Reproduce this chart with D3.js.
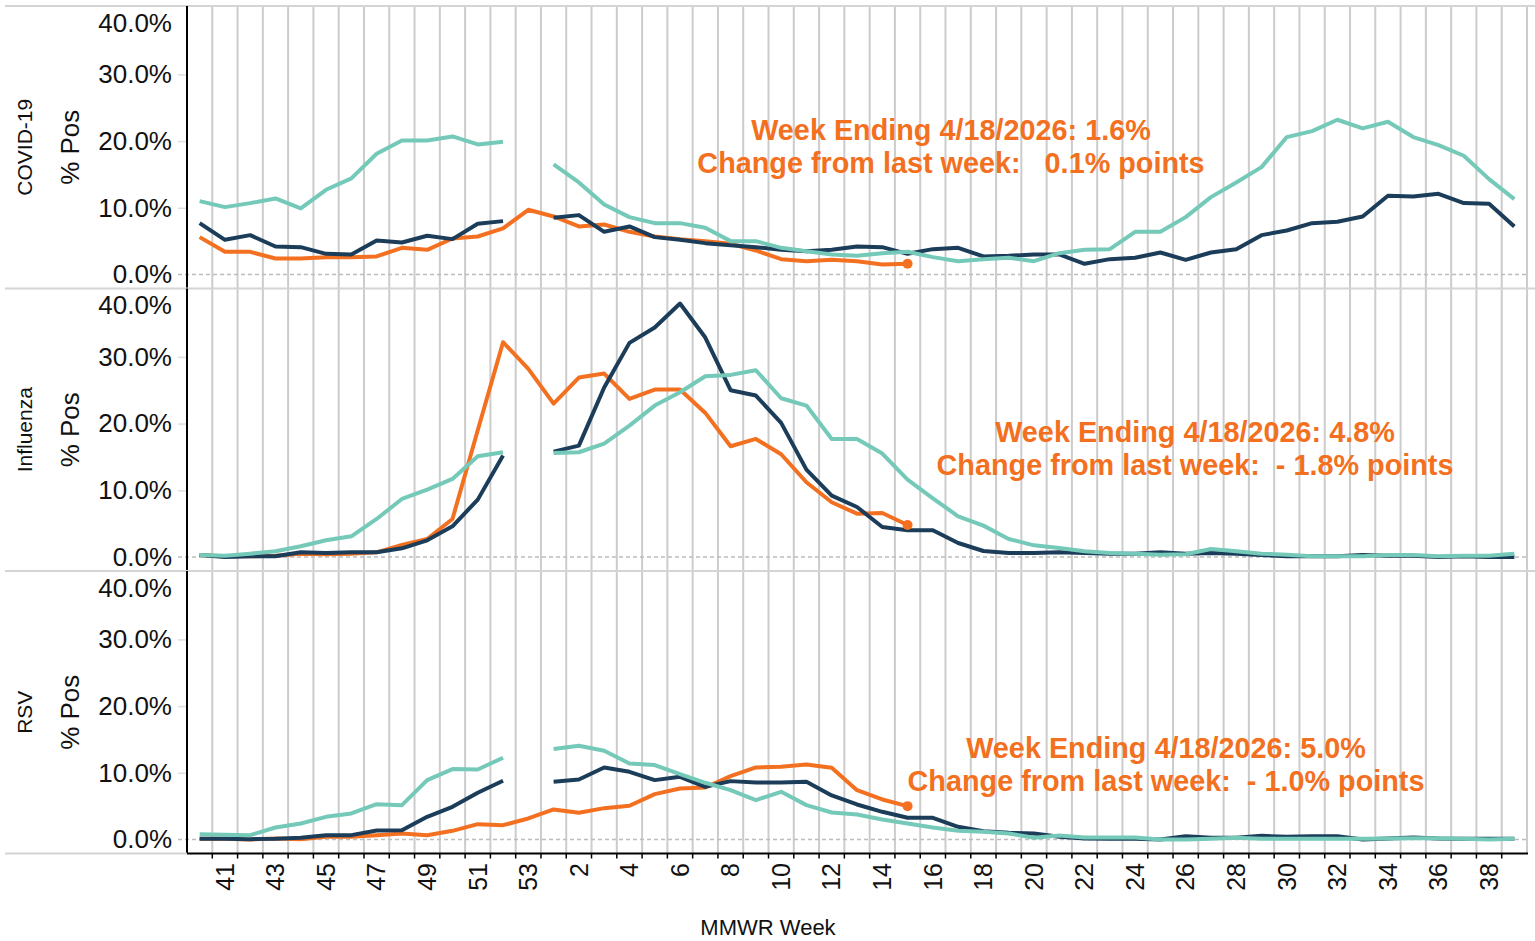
<!DOCTYPE html>
<html>
<head>
<meta charset="utf-8">
<script src="https://cdn.jsdelivr.net/npm/d3@7"></script>
<style>
  body { margin: 0; background: #fff; }
  text { font-family: Arial, "Liberation Sans", sans-serif; }
</style>
</head>
<body>
<svg id="chart" width="1535" height="941"></svg>
<script>
// MMWR weeks, season runs week 40 -> week 39
const weeks = [40, 41, 42, 43, 44, 45, 46, 47, 48, 49, 50, 51, 52, 53,
  1, 2, 3, 4, 5, 6, 7, 8, 9, 10, 11, 12, 13, 14, 15, 16, 17, 18, 19, 20,
  21, 22, 23, 24, 25, 26, 27, 28, 29, 30, 31, 32, 33, 34, 35, 36, 37, 38, 39];

const panelNames = ["COVID-19", "Influenza", "RSV"];
const yTicks = [0, 10, 20, 30, 40];

// % positive, current season (orange) -- week 40 through week 15
const covidCurrent = [5.6, 3.4, 3.4, 2.4, 2.4, 2.6, 2.6, 2.7, 4.0, 3.7, 5.4, 5.7, 6.9, 9.7,
  8.7, 7.2, 7.5, 6.4, 5.7, 5.3, 5.0, 4.6, 3.6, 2.3, 2.0, 2.2, 2.0, 1.5, 1.6];
const fluCurrent = [0.3, 0.1, 0.1, 0.2, 0.5, 0.4, 0.5, 0.7, 1.8, 2.7, 5.7, 19.0, 32.2, 28.2,
  23.0, 26.9, 27.5, 23.7, 25.1, 25.1, 21.6, 16.6, 17.7, 15.4, 11.2, 8.2, 6.5, 6.6, 4.8];
const rsvCurrent = [0.1, 0.1, 0.0, 0.15, 0.05, 0.4, 0.4, 0.65, 0.9, 0.65, 1.3, 2.3, 2.15, 3.15,
  4.5, 4.0, 4.7, 5.05, 6.8, 7.65, 7.8, 9.5, 10.8, 10.9, 11.25, 10.75, 7.4, 6.0, 5.0];

// previous season (navy), no week 53
const covidPrev = [7.7, 5.2, 5.9, 4.2, 4.1, 3.1, 3.0, 5.1, 4.8, 5.8, 5.3, 7.6, 8.0, null,
  8.5, 8.9, 6.4, 7.2, 5.6, 5.2, 4.7, 4.4, 4.1, 3.7, 3.5, 3.7, 4.2, 4.1, 3.1, 3.8, 4.0, 2.7, 2.8,
  3.0, 3.0, 1.6, 2.3, 2.5, 3.3, 2.2, 3.3, 3.8, 5.9, 6.6, 7.7, 7.9, 8.7, 11.8, 11.7, 12.1, 10.7, 10.6, 7.2];
const fluPrev = [0.3, 0.0, 0.1, 0.1, 0.7, 0.6, 0.7, 0.7, 1.3, 2.5, 4.6, 8.6, 15.2, null,
  15.8, 16.7, 25.4, 32.1, 34.4, 38.0, 32.9, 25.0, 24.2, 20.1, 13.1, 9.2, 7.5, 4.5, 4.0, 4.0, 2.1, 0.9, 0.6,
  0.6, 0.7, 0.6, 0.5, 0.5, 0.7, 0.5, 0.6, 0.5, 0.3, 0.1, 0.1, 0.1, 0.3, 0.2, 0.2, 0.0, 0.1, 0.0, 0.0];
const rsvPrev = [0.1, 0.1, 0.05, 0.1, 0.25, 0.65, 0.65, 1.35, 1.4, 3.4, 4.9, 7.0, 8.8, null,
  8.65, 9.0, 10.8, 10.15, 8.9, 9.4, 7.9, 8.75, 8.55, 8.55, 8.65, 6.6, 5.25, 4.15, 3.25, 3.25, 1.9, 1.25, 1.0,
  0.9, 0.4, 0.15, 0.1, 0.1, 0.0, 0.5, 0.25, 0.25, 0.55, 0.4, 0.5, 0.5, 0.0, 0.15, 0.3, 0.15, 0.1, 0.1, 0.1];

// two seasons back (teal)
const covidPrev2 = [11.0, 10.1, 10.7, 11.4, 9.9, 12.7, 14.4, 18.1, 20.1, 20.1, 20.7, 19.5, 19.9, null,
  16.5, 13.8, 10.5, 8.6, 7.7, 7.7, 7.0, 5.0, 5.0, 4.0, 3.5, 3.0, 2.8, 3.2, 3.4, 2.6, 2.0, 2.3, 2.5,
  2.0, 3.2, 3.7, 3.8, 6.4, 6.4, 8.6, 11.6, 13.8, 16.1, 20.6, 21.5, 23.2, 21.9, 22.9, 20.6, 19.4, 17.8, 14.3, 11.3];
const fluPrev2 = [0.3, 0.2, 0.5, 0.85, 1.6, 2.5, 3.1, 5.7, 8.7, 10.1, 11.7, 15.1, 15.7, null,
  15.6, 15.7, 17.0, 19.7, 22.7, 24.7, 27.1, 27.3, 28.0, 23.8, 22.7, 17.7, 17.7, 15.5, 11.6, 8.8, 6.1, 4.7, 2.7,
  1.75, 1.35, 0.85, 0.6, 0.5, 0.35, 0.4, 1.2, 0.85, 0.5, 0.35, 0.1, 0.1, 0.1, 0.3, 0.3, 0.1, 0.2, 0.2, 0.5];
const rsvPrev2 = [0.8, 0.7, 0.65, 1.8, 2.4, 3.4, 3.9, 5.3, 5.15, 8.9, 10.55, 10.5, 12.25, null,
  13.55, 14.05, 13.3, 11.4, 11.15, 9.8, 8.5, 7.4, 5.9, 7.15, 5.15, 4.05, 3.75, 3.0, 2.4, 1.8, 1.3, 1.15, 0.9,
  0.25, 0.6, 0.3, 0.3, 0.3, 0.0, 0.0, 0.1, 0.25, 0.1, 0.1, 0.1, 0.1, 0.1, 0.15, 0.2, 0.2, 0.1, 0.0, 0.1];

// annotation text per panel
const weekEnding = "4/18/2026";
const latestValues = ["1.6%", "4.8%", "5.0%"];
const weeklyChange = ["   0.1% points", "  - 1.8% points", "  - 1.0% points"];

const colors = { current: "#f37021", prev: "#1b3d59", prev2: "#74c9b8" };

// note: [center x, first line y] in page coordinates
const panels = [
  { name: panelNames[0], current: covidCurrent, prev: covidPrev, prev2: covidPrev2, note: [951, 130] },
  { name: panelNames[1], current: fluCurrent, prev: fluPrev, prev2: fluPrev2, note: [1195, 432] },
  { name: panelNames[2], current: rsvCurrent, prev: rsvPrev, prev2: rsvPrev2, note: [1166, 748] }
];

// --- layout ---
const left = 187, right = 1527;
const panelH = 282.5;
const panelTops = [6, 288.5, 571];
const svg = d3.select("#chart");

const x = d3.scaleBand().domain(weeks).range([left, right]).padding(0);
const xc = w => x(w) + x.bandwidth() / 2;
const y = d3.scaleLinear().domain([-2.1, 40.25]).range([panelH, 0]);

const line = d3.line()
  .defined(d => d.v != null)
  .x(d => xc(d.w))
  .y(d => y(d.v));

panels.forEach((p, pi) => {
  const top = panelTops[pi];
  const g = svg.append("g").attr("transform", `translate(0,${top})`);

  // vertical gridlines at band edges
  g.append("g")
    .selectAll("line")
    .data(weeks.slice(1).map(w => x(w)).concat([right]))
    .join("line")
    .attr("x1", d => d).attr("x2", d => d)
    .attr("y1", 0).attr("y2", panelH)
    .attr("stroke", "#cccccc")
    .attr("stroke-width", 2);

  // panel separator
  g.append("line")
    .attr("x1", 5).attr("x2", 1535)
    .attr("y1", 0).attr("y2", 0)
    .attr("stroke", "#d4d4d4").attr("stroke-width", 2);

  // zero line
  g.append("line")
    .attr("x1", left - 9).attr("x2", right)
    .attr("y1", y(0)).attr("y2", y(0))
    .attr("stroke", "#bdbdbd")
    .attr("stroke-width", 1.5)
    .attr("stroke-dasharray", "4,3");

  // y axis
  const yAxis = g.append("g")
    .attr("transform", `translate(${left},0)`)
    .call(d3.axisLeft(y).tickValues(yTicks).tickSize(9).tickPadding(6)
      .tickFormat(d => d.toFixed(1) + "%"));
  yAxis.select(".domain").remove();
  yAxis.selectAll(".tick line").attr("stroke", "#dddddd").attr("stroke-width", 1.5)
    .filter(d => d === 0 || d === 40).remove();
  yAxis.selectAll(".tick text")
    .attr("font-size", 26)
    .attr("fill", "#111")
    .attr("font-family", "Arial, 'Liberation Sans', sans-serif");
  // top label is pushed inside the pane
  yAxis.selectAll(".tick").filter(d => d === 40)
    .attr("transform", `translate(0,17.5)`);

  // black left axis line
  g.append("line")
    .attr("x1", left).attr("x2", left)
    .attr("y1", 0).attr("y2", panelH)
    .attr("stroke", "#000").attr("stroke-width", 2);

  // axis titles
  g.append("text")
    .attr("transform", `translate(70,${panelH / 2}) rotate(-90)`)
    .attr("text-anchor", "middle")
    .attr("dy", "0.35em")
    .attr("font-size", 26)
    .attr("fill", "#111")
    .text("% Pos");
  g.append("text")
    .attr("transform", `translate(25,${panelH / 2}) rotate(-90)`)
    .attr("text-anchor", "middle")
    .attr("dy", "0.35em")
    .attr("font-size", 21)
    .attr("fill", "#111")
    .text(p.name);

  // lines: current season first, then older seasons drawn on top
  const series = [
    { key: "current", vals: p.current },
    { key: "prev", vals: p.prev },
    { key: "prev2", vals: p.prev2 }
  ];
  series.forEach(s => {
    const pts = weeks.map((w, i) => ({ w: w, v: i < s.vals.length ? s.vals[i] : null }));
    g.append("path")
      .datum(pts)
      .attr("fill", "none")
      .attr("stroke", colors[s.key])
      .attr("stroke-width", 4)
      .attr("stroke-linejoin", "round")
      .attr("d", line);
  });

  // end dot on current season
  const lastIdx = p.current.length - 1;
  g.append("circle")
    .attr("cx", xc(weeks[lastIdx]))
    .attr("cy", y(p.current[lastIdx]))
    .attr("r", 5)
    .attr("fill", colors.current);

  // annotation
  const noteY = p.note[1] - top;
  const note = g.append("text")
    .attr("text-anchor", "middle")
    .attr("font-size", 28.8)
    .attr("font-weight", "bold")
    .attr("fill", colors.current)
    .style("white-space", "pre");
  note.append("tspan")
    .attr("x", p.note[0]).attr("y", noteY).attr("dy", "0.35em")
    .text(`Week Ending ${weekEnding}: ${latestValues[pi]}`);
  note.append("tspan")
    .attr("x", p.note[0]).attr("y", noteY + 33).attr("dy", "0.35em")
    .text(`Change from last week:${weeklyChange[pi]}`);
});

// bottom separator left of axis
const bottomY = panelTops[2] + panelH;
svg.append("line")
  .attr("x1", 5).attr("x2", left)
  .attr("y1", bottomY).attr("y2", bottomY)
  .attr("stroke", "#d4d4d4").attr("stroke-width", 2);

// x axis: tick marks at band edges, labels every other week
svg.append("g")
  .selectAll("line")
  .data(weeks.slice(1).map(w => x(w)))
  .join("line")
  .attr("x1", d => d).attr("x2", d => d)
  .attr("y1", bottomY).attr("y2", bottomY + 5)
  .attr("stroke", "#000").attr("stroke-width", 1.5);

const labelWeeks = weeks.filter((w, i) => i % 2 === 1);
const xAxis = svg.append("g")
  .attr("transform", `translate(0,${bottomY})`)
  .call(d3.axisBottom(x).tickValues(labelWeeks).tickSize(0));
xAxis.select(".domain").remove();
xAxis.selectAll(".tick text")
  .attr("transform", "rotate(-90)")
  .attr("text-anchor", "end")
  .attr("x", -9.5)
  .attr("y", 0)
  .attr("dy", "0.35em")
  .attr("font-size", 25)
  .attr("fill", "#111")
  .attr("font-family", "Arial, 'Liberation Sans', sans-serif");

svg.append("line")
  .attr("x1", left).attr("x2", right + 1)
  .attr("y1", bottomY).attr("y2", bottomY)
  .attr("stroke", "#000").attr("stroke-width", 2);

svg.append("text")
  .attr("x", 768).attr("y", 935)
  .attr("text-anchor", "middle")
  .attr("font-size", 22)
  .attr("fill", "#111")
  .text("MMWR Week");
</script>
</body>
</html>
